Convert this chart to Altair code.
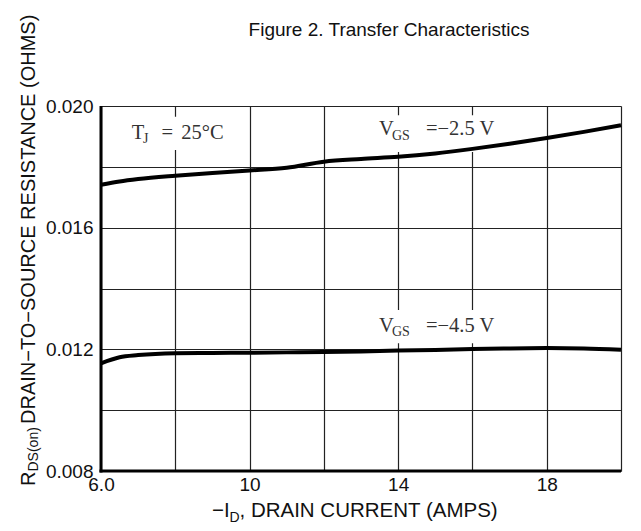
import altair as alt
import pandas as pd

# ---- data ----
current = [6.0, 6.5, 7.0, 8.0, 9.0, 10.0, 11.0, 12.0, 13.0, 14.0, 15.0, 16.0, 17.0, 18.0, 19.0, 20.0]
rds_vgs_25 = [0.01741, 0.01752, 0.01760, 0.01771, 0.01780, 0.01788, 0.01797, 0.01817, 0.01826, 0.01833,
              0.01844, 0.01859, 0.01876, 0.01895, 0.01915, 0.01937]
rds_vgs_45 = [0.01154, 0.01174, 0.01181, 0.01187, 0.01188, 0.01189, 0.01190, 0.01191, 0.01193, 0.01196,
              0.01198, 0.01201, 0.01203, 0.01204, 0.01203, 0.01199]
series_names = ["VGS = -2.5 V", "VGS = -4.5 V"]

x_ticks = [6, 8, 10, 12, 14, 16, 18, 20]
y_ticks = [0.008, 0.010, 0.012, 0.014, 0.016, 0.018, 0.020]

# label boxes (white backgrounds that interrupt the grid)
box_x = [6.62, 13.30, 13.30]
box_x2 = [9.31, 16.95, 16.95]
box_y = [0.01965, 0.01970, 0.01329]
box_y2 = [0.01855, 0.01849, 0.01220]

rows = []
for name, vals in zip(series_names, [rds_vgs_25, rds_vgs_45]):
    for xv, yv in zip(current, vals):
        rows.append({"series": name, "id": xv, "rds": yv})
df = pd.DataFrame(rows)
boxes = pd.DataFrame({"x": box_x, "x2": box_x2, "y": box_y, "y2": box_y2})
one = pd.DataFrame({"k": [0]})

W, H = 520, 365
xs = alt.Scale(domain=[6, 20], nice=False, zero=False)
ys = alt.Scale(domain=[0.008, 0.020], nice=False, zero=False)

SANS = "Liberation Sans"
SERIF = "Liberation Serif"

x_axis = alt.Axis(values=x_ticks, title=None, grid=True, ticks=False, domain=False,
                  labelExpr="datum.value == 6 ? '6.0' : (datum.value % 4 == 2 ? format(datum.value, 'd') : '')",
                  labelFont=SANS, labelFontSize=19, labelColor="#111", labelPadding=4,
                  gridColor="#222", gridWidth=1.2, labelFlush=False)
y_axis = alt.Axis(values=y_ticks, title=None, grid=True, ticks=False, domain=False,
                  labelExpr="round(datum.value * 1000) % 4 == 0 ? format(datum.value, '.3f') : ''",
                  labelFont=SANS, labelFontSize=19, labelColor="#111", labelPadding=8,
                  gridColor="#222", gridWidth=1.2, labelFlush=False)

base_grid = alt.Chart(df).mark_line(opacity=0).encode(
    x=alt.X("id:Q", scale=xs, axis=x_axis),
    y=alt.Y("rds:Q", scale=ys, axis=y_axis),
)

rects = alt.Chart(boxes).mark_rect(color="white").encode(
    x=alt.X("x:Q", scale=xs), x2="x2:Q",
    y=alt.Y("y:Q", scale=ys), y2="y2:Q",
)

# axis lines (thick left & bottom)
left_axis = alt.Chart(one).mark_rule(color="black", strokeWidth=3).encode(
    x=alt.value(0), y=alt.value(0), y2=alt.value(H + 1.5))
bottom_axis = alt.Chart(one).mark_rule(color="black", strokeWidth=3).encode(
    x=alt.value(-1.5), x2=alt.value(W), y=alt.value(H))

lines = alt.Chart(df).mark_line(color="black", strokeWidth=4, interpolate="monotone").encode(
    x=alt.X("id:Q", scale=xs),
    y=alt.Y("rds:Q", scale=ys),
    detail="series:N",
)

def txt(s, x, y, size, font=SERIF, color="#333", angle=0, data_coords=True):
    m = alt.Chart(one).mark_text(text=s, font=font, fontSize=size, color=color,
                                 align="left", baseline="alphabetic", angle=angle)
    if data_coords:
        return m.encode(x=alt.datum(x, scale=xs), y=alt.datum(y, scale=ys))
    return m.encode(x=alt.value(x), y=alt.value(y))

annotations = [
    txt("T", 6.83, 0.01890, 20.5),
    txt("J", 7.13, 0.01879, 14),
    txt("=", 7.63, 0.01890, 20.5),
    txt("25°C", 8.16, 0.01890, 20.5),
    txt("V", 13.485, 0.01905, 20.5),
    txt("GS", 13.835, 0.01888, 14),
    txt("=−2.5 V", 14.75, 0.01905, 20.5),
    txt("V", 13.485, 0.01258, 20.5),
    txt("GS", 13.835, 0.01243, 14),
    txt("=−4.5 V", 14.75, 0.01258, 20.5),
]

# titles placed in plot-area pixel coordinates (origin = top-left of plot)
title = alt.Chart(one).mark_text(text="Figure 2. Transfer Characteristics", font=SANS, fontSize=19,
                                 color="#111", align="center", baseline="alphabetic").encode(
    x=alt.value(288), y=alt.value(-70))
xt = [
    txt("−I", 111, 411, 20.5, font=SANS, color="#111", data_coords=False),
    txt("D", 128.5, 416, 14, font=SANS, color="#111", data_coords=False),
    txt(", DRAIN CURRENT (AMPS)", 138.5, 411, 20.5, font=SANS, color="#111", data_coords=False),
]
yt = [
    txt("R", -66, 380, 20, font=SANS, color="#111", angle=270, data_coords=False),
    txt("DS(on)", -63, 365.5, 14, font=SANS, color="#111", angle=270, data_coords=False),
    txt("DRAIN−TO−SOURCE RESISTANCE (OHMS)", -66, 318, 20, font=SANS, color="#111", angle=270,
        data_coords=False),
]

chart = alt.layer(base_grid, rects, lines, left_axis, bottom_axis, title, *annotations, *xt, *yt).properties(
    width=W, height=H,
    autosize=alt.AutoSizeParams(type="none"),
    padding={"left": 93, "top": 98, "right": 12, "bottom": 60},
).configure_view(stroke="black", strokeWidth=1.5).configure(background="white")

chart.save("out.html", embed_options={"renderer": "svg", "actions": False})
